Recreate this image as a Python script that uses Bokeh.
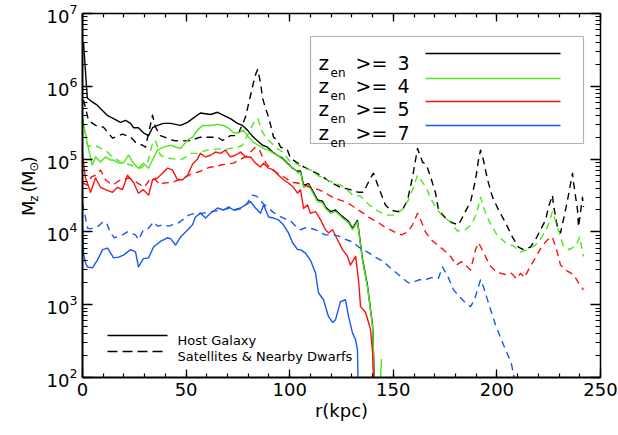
import math
from bokeh.plotting import figure
from bokeh.layouts import row
from bokeh.core.properties import value
from bokeh.models import (LinearAxis, LogAxis, FixedTicker, SingleIntervalTicker,
                          BoxAnnotation, Label, LogTickFormatter, Range1d)
from bokeh.embed import file_html
from bokeh.resources import INLINE

# ---------------- data (r in kpc, M_z in solar masses) ----------------
# Host galaxy (solid)
r_host_z3 = [0.5, 2.3, 4.7, 7.1, 9.5, 11.9, 15.0, 18.3, 20.8, 23.2, 24.6, 27.0, 29.4, 31.9, 33.8, 36.2,
             39.1, 42.5, 47.3, 50.7, 53.1, 56.9, 61.8, 65.2, 68.1, 71.4, 74.8, 77.2, 79.6, 82.0, 84.5,
             86.9, 89.3, 91.7, 94.1, 96.5, 98.9, 101.4, 103.8, 105.2, 106.7, 109.1, 111.0, 113.4, 115.8,
             117.3, 119.7, 122.1, 125.5, 128.4, 130.3, 132.7, 135.1, 137.5, 140.0, 140.4, 140.9]
m_host_z3 = [4.0e6, 6.9e5, 6.1e5, 5.5e5, 4.7e5, 4.0e5, 3.6e5, 3.2e5, 3.4e5, 3.1e5, 2.7e5, 2.7e5, 2.3e5,
             2.1e5, 2.7e5, 2.9e5, 3.1e5, 3.1e5, 2.9e5, 3.2e5, 3.6e5, 4.3e5, 4.1e5, 4.4e5, 4.0e5, 3.6e5,
             3.1e5, 2.9e5, 2.5e5, 2.07e5, 1.77e5, 1.55e5, 1.46e5, 1.25e5, 1.13e5, 1.03e5, 8.8e4, 7.5e4,
             6.8e4, 6.9e4, 4.4e4, 4.6e4, 3.7e4, 2.75e4, 2.65e4, 2.2e4, 1.9e4, 2.0e4, 1.62e4, 1.4e4,
             1.12e4, 1.44e4, 4.3e3, 1.85e3, 520, 230, 90]

r_host_z4 = [0.0, 2.3, 4.7, 6.3, 8.7, 11.1, 13.5, 15.0, 17.4, 19.8, 22.2, 24.6, 27.0, 29.4, 31.9, 33.8,
             36.2, 39.1, 42.5, 47.3, 50.7, 53.1, 55.5, 57.9, 61.8, 65.2, 68.1, 70.5, 72.9, 75.3, 77.7,
             80.1, 82.5, 84.9, 87.4, 89.8, 92.2, 94.6, 97.0, 99.4, 101.8, 104.2, 105.2, 106.7, 109.1,
             111.0, 113.4, 115.8, 117.3, 119.7, 122.1, 125.5, 128.4, 130.3, 132.7, 135.1, 137.5, 140.0,
             140.4, 140.9, 143.3, 144.3]
m_host_z4 = [3.6e5, 1.66e5, 8.3e4, 1.07e5, 9.1e4, 1.07e5, 9.7e4, 9.7e4, 8.8e4, 8.8e4, 1.13e5, 8.8e4,
             7.5e4, 8.8e4, 7.5e4, 9.7e4, 1.33e5, 1.46e5, 1.55e5, 1.4e5, 1.82e5, 2.0e5, 2.5e5, 2.9e5,
             2.9e5, 3.0e5, 2.9e5, 2.66e5, 2.3e5, 2.3e5, 2.5e5, 2.0e5, 1.7e5, 1.55e5, 1.4e5, 1.33e5,
             1.2e5, 1.1e5, 9.7e4, 8.3e4, 7.5e4, 6.4e4, 6.6e4, 4.1e4, 4.4e4, 3.5e4, 2.6e4, 2.5e4, 2.1e4,
             1.8e4, 1.9e4, 1.55e4, 1.33e4, 1.07e4, 1.37e4, 4.1e3, 1.77e3, 500, 220, 60, 50, 180]

r_host_z5 = [0.0, 1.4, 3.9, 6.3, 8.7, 11.1, 14.5, 16.9, 19.3, 21.7, 24.6, 27.0, 29.4, 31.9, 33.8, 36.2,
             38.6, 41.0, 43.4, 45.8, 48.3, 50.7, 53.1, 55.5, 56.9, 59.4, 61.8, 64.2, 66.6, 69.0, 71.4,
             73.8, 76.3, 78.7, 81.1, 83.5, 85.9, 87.4, 89.8, 92.2, 94.6, 97.0, 99.4, 101.8, 103.8, 105.2,
             106.7, 108.6, 110.0, 112.5, 114.9, 117.3, 118.7, 120.7, 123.1, 125.5, 127.9, 129.3, 131.8,
             133.2, 134.2, 136.6, 139.0, 140.0, 140.4]
m_host_z5 = [1.2e5, 5.5e4, 3.5e4, 5.5e4, 4.1e4, 3.8e4, 3.5e4, 4.1e4, 3.8e4, 6.0e4, 4.8e4, 3.4e4, 3.8e4,
             3.2e4, 5.2e4, 5.5e4, 6.4e4, 7.5e4, 7.1e4, 5.2e4, 5.2e4, 6.0e4, 8.5e4, 1.0e5, 1.2e5, 1.07e5,
             1.13e5, 1.25e5, 1.2e5, 1.33e5, 1.07e5, 1.13e5, 1.25e5, 1.07e5, 1.07e5, 8.8e4, 7.8e4, 8.8e4,
             7.5e4, 7.1e4, 6.0e4, 5.2e4, 4.7e4, 4.1e4, 3.4e4, 3.8e4, 2.1e4, 2.35e4, 1.8e4, 1.9e4, 1.46e4,
             1.07e4, 9.7e3, 1.07e4, 7.8e3, 5.7e3, 4.6e3, 3.5e3, 4.6e3, 2.2e3, 940, 780, 460, 220, 90]

r_host_z7 = [0.0, 0.5, 1.4, 2.4, 4.8, 7.2, 9.7, 12.1, 15.0, 17.4, 19.8, 23.2, 25.6, 27.0, 29.4, 31.9,
             34.3, 37.6, 41.0, 42.5, 44.9, 47.3, 50.7, 53.1, 54.5, 56.9, 59.4, 61.8, 65.2, 68.1, 70.5,
             72.9, 76.3, 78.7, 81.1, 83.5, 85.9, 87.4, 89.8, 92.2, 94.6, 97.0, 99.4, 101.4, 103.8, 105.2,
             107.6, 110.0, 112.5, 113.9, 116.3, 118.7, 120.7, 122.1, 124.5, 126.9, 128.4, 130.3, 131.8,
             132.7, 133.0]
m_host_z7 = [1.17e4, 5.0e3, 3.8e3, 3.3e3, 3.2e3, 4.1e3, 5.7e3, 6.0e3, 4.4e3, 4.5e3, 4.8e3, 5.7e3, 5.3e3,
             3.3e3, 4.3e3, 4.4e3, 6.2e3, 7.4e3, 8.3e3, 8.1e3, 6.6e3, 8.5e3, 1.06e4, 1.25e4, 1.6e4, 1.8e4,
             1.55e4, 1.8e4, 2.13e4, 2.0e4, 2.2e4, 2.0e4, 2.13e4, 2.35e4, 2.6e4, 2.13e4, 1.8e4, 2.35e4,
             1.6e4, 1.55e4, 1.46e4, 1.25e4, 9.7e3, 7.1e3, 5.7e3, 5.7e3, 5.1e3, 4.1e3, 2.7e3, 1.46e3,
             1.17e3, 690, 570, 620, 1.1e3, 1.17e3, 690, 410, 330, 240, 90]

# Satellites & nearby dwarfs (dashed)
r_sat_z3 = [0.5, 2.9, 6.3, 10.1, 12.5, 14.5, 16.9, 19.3, 23.2, 25.6, 29.0, 30.4, 33.8, 35.2, 37.6, 41.0,
            43.9, 47.3, 52.1, 56.9, 60.3, 65.2, 67.6, 71.4, 74.8, 78.7, 80.8, 82.0, 83.3, 84.5, 85.9,
            86.9, 88.3, 89.8, 92.2, 94.1, 95.6, 98.9, 100.4, 103.8, 105.2, 106.7, 114.9, 119.7, 124.5,
            129.3, 133.2, 135.6, 139.0, 140.4, 142.9, 146.2, 148.6, 152.0, 154.4, 156.9, 159.3, 161.7,
            164.1, 166.0, 168.0, 170.4, 171.8, 175.2, 178.6, 181.5, 183.9, 187.3, 189.7, 191.1, 192.1,
            193.5, 195.5, 197.9, 200.8, 204.2, 207.5, 210.4, 212.8, 216.2, 218.6, 221.0, 223.5, 224.9,
            226.8, 227.3, 229.2, 230.7, 232.1, 234.1, 236.5, 237.0, 238.9, 239.4, 241.3, 241.8]
m_sat_z3 = [6.5e5, 3.4e5, 2.9e5, 2.75e5, 2.27e5, 1.94e5, 2.07e5, 2.2e5, 2.0e5, 1.7e5, 1.55e5, 1.46e5,
            4.0e5, 2.75e5, 2.1e5, 1.94e5, 1.8e5, 1.77e5, 1.8e5, 2.0e5, 2.0e5, 2.0e5, 1.8e5, 2.1e5, 2.1e5,
            3.8e5, 6.9e5, 9.7e5, 1.4e6, 1.7e6, 1.13e6, 6.9e5, 5.0e5, 3.8e5, 2.0e5, 1.8e5, 1.46e5, 1.33e5,
            1.03e5, 8.8e4, 8.8e4, 7.8e4, 6.0e4, 4.8e4, 4.1e4, 3.8e4, 3.5e4, 3.5e4, 5.5e4, 6.4e4, 4.1e4,
            2.35e4, 2.0e4, 1.9e4, 2.0e4, 2.75e4, 5.7e4, 1.4e5, 9.1e4, 8.3e4, 5.7e4, 3.4e4, 2.0e4, 1.55e4,
            1.33e4, 1.25e4, 1.7e4, 2.6e4, 5.2e4, 9.7e4, 1.33e5, 9.7e4, 5.2e4, 3.0e4, 2.0e4, 1.33e4,
            8.5e3, 6.2e3, 5.7e3, 6.2e3, 7.8e3, 1.06e4, 1.46e4, 2.2e4, 3.2e4, 2.35e4, 1.17e4, 9.7e3,
            1.46e4, 2.75e4, 6.4e4, 4.7e4, 2.0e4, 1.17e4, 3.0e4, 2.2e4]

r_sat_z4 = [0.0, 2.4, 4.8, 7.2, 12.1, 13.5, 18.3, 23.2, 25.6, 28.0, 31.4, 33.8, 35.2, 37.6, 41.0, 44.9,
            48.3, 52.1, 55.5, 59.8, 65.2, 69.5, 74.8, 77.2, 80.1, 82.5, 84.7, 86.4, 88.3, 91.2, 93.1,
            96.5, 100.4, 102.8, 106.7, 110.0, 113.4, 117.8, 121.6, 124.5, 127.4, 130.3, 134.2, 138.0,
            142.9, 147.7, 151.1, 154.9, 157.3, 159.7, 161.7, 164.1, 166.0, 168.4, 170.4, 173.3, 177.1,
            181.0, 184.4, 187.7, 190.2, 192.1, 194.0, 196.4, 199.8, 204.2, 208.0, 211.4, 214.8, 218.6,
            221.5, 224.4, 226.8, 229.2, 232.1, 235.0, 238.4, 239.9, 241.8]
m_sat_z4 = [3.6e5, 1.55e5, 1.46e5, 1.5e5, 1.25e5, 1.13e5, 9.1e4, 8.3e4, 7.8e4, 7.5e4, 8.8e4, 1.66e5,
            1.8e5, 1.13e5, 1.03e5, 1.0e5, 1.0e5, 1.2e5, 1.2e5, 1.33e5, 1.37e5, 1.37e5, 1.46e5, 1.55e5,
            2.27e5, 3.1e5, 3.6e5, 2.5e5, 2.0e5, 1.66e5, 1.46e5, 1.25e5, 9.1e4, 8.8e4, 7.5e4, 7.1e4,
            6.0e4, 5.2e4, 4.7e4, 4.4e4, 3.9e4, 3.2e4, 3.1e4, 2.4e4, 1.9e4, 1.7e4, 1.7e4, 2.1e4, 2.75e4,
            4.1e4, 6.0e4, 4.8e4, 4.0e4, 2.75e4, 2.2e4, 1.7e4, 1.4e4, 1.03e4, 1.06e4, 1.25e4, 1.8e4,
            3.0e4, 2.0e4, 1.37e4, 9.3e3, 7.1e3, 6.4e3, 5.3e3, 5.7e3, 6.6e3, 8.3e3, 1.17e4, 1.9e4,
            1.17e4, 6.4e3, 5.7e3, 6.6e3, 8.5e3, 4.6e3]

r_sat_z5 = [0.0, 2.4, 4.3, 6.3, 8.7, 11.1, 14.5, 18.3, 22.7, 26.1, 29.9, 32.8, 35.2, 37.6, 39.1, 43.4,
            46.3, 48.7, 53.1, 55.5, 58.4, 61.8, 64.7, 66.6, 70.5, 72.9, 75.3, 78.7, 81.1, 83.5, 85.4,
            86.9, 88.8, 91.7, 95.6, 98.0, 100.9, 103.8, 106.7, 110.0, 113.9, 116.8, 119.7, 124.0, 126.9,
            130.3, 133.2, 135.6, 138.0, 140.4, 142.9, 145.8, 148.6, 151.5, 154.0, 156.9, 159.3, 161.7,
            163.6, 165.5, 168.4, 171.3, 174.2, 177.6, 180.5, 182.9, 185.3, 187.3, 189.7, 191.1, 193.5,
            196.4, 199.8, 204.2, 207.0, 209.5, 211.4, 213.3, 215.7, 218.6, 221.5, 224.4, 226.8, 228.8,
            230.7, 233.1, 237.0, 239.4, 241.8]
m_sat_z5 = [4.7e4, 4.4e4, 5.7e4, 6.0e4, 7.1e4, 5.2e4, 4.4e4, 5.2e4, 5.5e4, 4.8e4, 4.1e4, 5.5e4, 5.2e4,
            4.4e4, 4.7e4, 4.8e4, 5.2e4, 5.5e4, 6.4e4, 6.6e4, 7.1e4, 7.8e4, 7.8e4, 8.3e4, 8.6e4, 8.8e4,
            9.7e4, 1.07e5, 1.25e5, 1.46e5, 1.33e5, 1.07e5, 8.6e4, 7.1e4, 6.0e4, 5.5e4, 4.8e4, 4.7e4,
            4.4e4, 4.1e4, 3.8e4, 3.5e4, 3.1e4, 2.75e4, 2.6e4, 2.27e4, 2.0e4, 1.8e4, 1.6e4, 1.46e4,
            1.33e4, 1.17e4, 1.07e4, 9.7e3, 9.1e3, 1.0e4, 1.25e4, 1.8e4, 1.37e4, 1.0e4, 7.8e3, 6.6e3,
            5.7e3, 4.6e3, 3.5e3, 3.9e3, 3.4e3, 3.0e3, 5.7e3, 7.1e3, 5.3e3, 3.5e3, 2.8e3, 2.6e3, 2.7e3,
            2.27e3, 2.7e3, 2.35e3, 3.2e3, 4.4e3, 6.2e3, 7.8e3, 8.5e3, 5.7e3, 3.5e3, 3.0e3, 2.6e3,
            2.0e3, 1.6e3]

r_sat_z7 = [0.0, 1.4, 2.4, 3.9, 7.7, 9.7, 11.6, 13.5, 15.4, 19.3, 21.7, 25.6, 27.0, 29.4, 31.9, 34.3,
            36.2, 39.1, 41.5, 46.3, 48.3, 51.2, 54.5, 57.9, 61.8, 67.6, 70.5, 73.8, 76.7, 79.6, 82.0,
            84.0, 86.9, 91.7, 94.1, 98.9, 100.9, 103.3, 105.2, 107.1, 109.6, 112.5, 114.9, 117.3, 120.2,
            123.1, 127.4, 130.3, 133.2, 135.6, 139.0, 141.9, 145.3, 148.6, 152.0, 155.4, 157.3, 159.7,
            162.6, 165.5, 168.4, 171.8, 173.7, 176.6, 179.1, 181.5, 184.4, 187.3, 189.2, 190.6, 192.1,
            193.5, 195.0, 197.4, 199.3, 203.2, 205.1, 207.0, 209.0]
m_sat_z7 = [2.5e4, 1.6e4, 1.13e4, 1.1e4, 1.2e4, 1.37e4, 1.33e4, 9.7e3, 8.3e3, 9.1e3, 1.0e4, 9.1e3, 7.8e3,
            1.06e4, 1.13e4, 1.37e4, 1.2e4, 1.25e4, 1.2e4, 1.33e4, 1.46e4, 1.7e4, 1.8e4, 1.8e4, 1.9e4,
            2.0e4, 2.1e4, 2.0e4, 2.1e4, 2.5e4, 3.2e4, 3.1e4, 2.5e4, 1.9e4, 1.7e4, 1.46e4, 1.37e4,
            1.17e4, 1.07e4, 1.13e4, 1.13e4, 1.07e4, 9.7e3, 9.1e3, 9.1e3, 8.9e3, 7.8e3, 7.3e3, 6.2e3,
            5.7e3, 5.0e3, 4.4e3, 3.9e3, 3.2e3, 2.66e3, 2.2e3, 2.0e3, 2.05e3, 2.2e3, 2.2e3, 2.35e3,
            2.3e3, 3.3e3, 2.35e3, 1.6e3, 1.33e3, 1.1e3, 940, 1.17e3, 1.6e3, 2.2e3, 1.77e3, 1.29e3,
            780, 530, 280, 210, 155, 80]

legend_thresholds = ["3", "4", "5", "7"]
series_colors = ["#000000", "#4fe61c", "#ff1010", "#1a58f0"]
y_major = [1e2, 1e3, 1e4, 1e5, 1e6, 1e7]

FONT = "DejaVu Sans"
W, H = 618, 435
LW = 40          # width of the strip that carries the y-axis title

# ---------------- main figure ----------------
p = figure(width=W - LW, height=H, x_range=(0, 250), y_range=(1e2, 1e7), y_axis_type="log",
           output_backend="svg", toolbar_location=None,
           min_border_left=82 - LW, min_border_right=18, min_border_top=13, min_border_bottom=58)
p.grid.visible = False
p.outline_line_color = None
p.background_fill_color = "white"
p.border_fill_color = "white"

# frame-pixel -> data helpers (for decorations only)
FX0, FX1, FY0, FY1 = 82, 600, 377, 13
def sx(px):
    return (px - FX0) / (FX1 - FX0) * 250.0
def sy(py):
    return 10 ** (2 + (FY0 - py) / (FY0 - FY1) * 5.0)

y_minor = [k * d for d in y_major[:-1] for k in range(2, 10)]
yticker = FixedTicker(ticks=y_major, minor_ticks=y_minor)
xticker = SingleIntervalTicker(interval=50, num_minor_ticks=5)

def style_axis(ax, major_in, minor_in, width):
    ax.axis_line_color = "black"
    ax.axis_line_width = width
    ax.major_tick_in = major_in
    ax.major_tick_out = 0
    ax.minor_tick_in = minor_in
    ax.minor_tick_out = 0
    ax.major_tick_line_width = 1.3
    ax.minor_tick_line_width = 1.2
    ax.major_tick_line_color = "black"
    ax.minor_tick_line_color = "black"
    ax.major_label_text_font = FONT
    ax.major_label_text_color = "black"

xb = p.below[0]
xb.ticker = xticker
style_axis(xb, 8, 4, 2)
xb.major_label_text_font_size = "18px"
xb.major_label_standoff = 5
xb.axis_label = "r(kpc)"
xb.axis_label_text_font = FONT
xb.axis_label_text_font_style = "normal"
xb.axis_label_text_color = "black"
xb.axis_label_text_font_size = "18px"
xb.axis_label_standoff = 1

yl = p.left[0]
yl.ticker = yticker
yl.formatter = LogTickFormatter()
style_axis(yl, 10, 5, 2)
yl.major_label_text_font_size = "18px"
yl.major_label_standoff = 5

# mirrored axes (ticks only) on top and right
xt = LinearAxis(ticker=SingleIntervalTicker(interval=50, num_minor_ticks=5))
style_axis(xt, 8, 4, 1.5)
xt.major_label_text_font_size = "1px"
xt.major_label_text_color = None
xt.major_label_standoff = 0
p.add_layout(xt, "above")

yr = LogAxis(ticker=FixedTicker(ticks=y_major, minor_ticks=y_minor))
style_axis(yr, 10, 5, 1.5)
yr.major_label_text_font_size = "1px"
yr.major_label_text_color = None
yr.major_label_standoff = 0
p.add_layout(yr, "right")

# ---------------- data lines ----------------
DASH = "7 5"
sat = [(r_sat_z3, m_sat_z3), (r_sat_z4, m_sat_z4), (r_sat_z5, m_sat_z5), (r_sat_z7, m_sat_z7)]
host = [(r_host_z3, m_host_z3), (r_host_z4, m_host_z4), (r_host_z5, m_host_z5), (r_host_z7, m_host_z7)]
for (rs, ms), (rh, mh), c in zip(sat, host, series_colors):
    p.line(rs, ms, line_color=c, line_width=1.4, line_dash=DASH, line_join="round")
    p.line(rh, mh, line_color=c, line_width=1.4, line_join="round")

# ---------------- legend (top right) ----------------
box = BoxAnnotation(left=sx(310), right=sx(583), top=sy(36), bottom=sy(143),
                    fill_color="white", fill_alpha=1.0, line_color="black", line_width=1.2,
                    level="underlay")
p.add_layout(box)

row_base = [62, 85, 108, 132]
row_line = [53, 78, 101, 125]
for thr, c, yb, yline in zip(legend_thresholds, series_colors, row_base, row_line):
    p.add_layout(Label(x=sx(318), y=sy(yb), text="z", text_font=FONT, text_font_size="20px",
                       text_color="black", text_baseline="alphabetic", text_align="left"))
    p.add_layout(Label(x=sx(330), y=sy(yb + 10), text="en", text_font=FONT, text_font_size="12px",
                       text_color="black", text_baseline="alphabetic", text_align="left"))
    p.add_layout(Label(x=sx(355), y=sy(yb), text=">=", text_font=FONT, text_font_size="19px",
                       text_color="black", text_baseline="alphabetic", text_align="left"))
    p.add_layout(Label(x=sx(397), y=sy(yb), text=thr, text_font=FONT, text_font_size="19px",
                       text_color="black", text_baseline="alphabetic", text_align="left"))
    p.line([sx(425), sx(560)], [sy(yline), sy(yline)], line_color=c, line_width=1.4)

# ---------------- legend (bottom left) ----------------
p.line([sx(107), sx(167)], [sy(335), sy(335)], line_color="black", line_width=1.4)
p.line([sx(107), sx(167)], [sy(351), sy(351)], line_color="black", line_width=1.4, line_dash="10 5")
p.add_layout(Label(x=sx(177), y=sy(340), text="Host Galaxy", text_font=FONT, text_font_size="13px",
                   text_color="black", text_baseline="alphabetic"))
p.add_layout(Label(x=sx(177), y=sy(356), text="Satellites & Nearby Dwarfs", text_font=FONT,
                   text_font_size="13px", text_color="black", text_baseline="alphabetic"))

# ---------------- y axis title strip: M_z (M_sun) ----------------
t = figure(width=LW, height=H, x_range=Range1d(0, LW), y_range=Range1d(0, H),
           output_backend="svg", toolbar_location=None, x_axis_location=None, y_axis_location=None,
           min_border=0, min_border_left=0, min_border_right=0, min_border_top=0, min_border_bottom=0)
t.grid.visible = False
t.outline_line_color = None
t.background_fill_color = "white"
t.border_fill_color = "white"

ang = math.pi / 2
# (text, baseline x px, start y px from top, size)
pieces = [("M", 28, 242, "18px"), ("z", 33, 225, "12px"), ("(", 28, 214, "18px"),
          ("M", 28, 206, "18px"), ("\u2299", 33, 189, "12px"), (")", 28, 179, "18px")]
for txt, bx, by, fs in pieces:
    t.text(x=[bx], y=[H - by], text=[txt], angle=ang, text_font=value(FONT), text_font_size=fs,
           text_color="black", text_baseline="alphabetic", text_align="left")

layout = row(t, p)
open("out.html", "w").write(file_html(layout, INLINE))
